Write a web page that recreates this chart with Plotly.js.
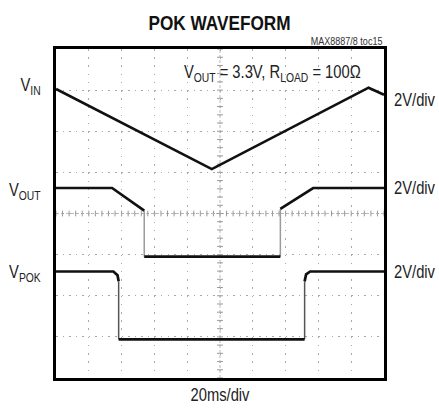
<!DOCTYPE html>
<html>
<head>
<meta charset="utf-8">
<script src="https://cdn.plot.ly/plotly-3.0.1.min.js"></script>
<style>html,body{margin:0;padding:0;background:#fff;}#chart{width:439px;height:409px;}</style>
</head>
<body>
<div id="chart"></div>
<script>
// ---- data (time in ms, amplitude in screen divisions) ----
const vinTime  = [0, 95, 190.6, 200];
const vinDiv   = [7.03, 5.08, 7.06, 6.89];

const voutTime = [0, 34.2, 53.8, 53.8, 136.8, 136.8, 156.8, 200];
const voutDiv  = [4.62, 4.62, 4.07, 2.95, 2.95, 4.11, 4.62, 4.62];

const vpokTime = [0, 35, 37.5, 38.2, 38.2, 151.6, 151.6, 152.5, 155, 200];
const vpokDiv  = [2.59, 2.59, 2.5, 2.35, 0.94, 0.94, 2.35, 2.52, 2.59, 2.59];

const channelLabels = ['V<sub>IN</sub>', 'V<sub>OUT</sub>', 'V<sub>POK</sub>'];
const scaleLabels   = ['2V/div', '2V/div', '2V/div'];
const timeLabel     = '20ms/div';
const conditionText = 'V<sub>OUT</sub> = 3.3V, R<sub>LOAD</sub> = 100Ω';
const chartTitle    = 'POK WAVEFORM';
const tocText       = 'MAX8887/8 toc15';

// ---- layout constants ----
const W = 439, H = 409;
const M = {l: 56, r: 55, t: 49, b: 31};
const PW = W - M.l - M.r, PH = H - M.t - M.b;
const FONT = '"Liberation Sans", Arial, sans-serif';
const NARROW = 0.82;
const px = x => (x - M.l) / PW;
const py = y => (M.t + PH - y) / PH;

function splitTrace(t, v, blackW, grayColor) {
  const bx = [], by = [], gx = [], gy = [];
  for (let i = 0; i < t.length; i++) {
    bx.push(t[i]); by.push(v[i]);
    if (i < t.length - 1 && t[i] === t[i + 1]) {
      bx.push(null); by.push(null);
      gx.push(t[i], t[i + 1], null); gy.push(v[i], v[i + 1], null);
    }
  }
  return [
    {x: gx, y: gy, mode: 'lines', line: {color: grayColor, width: 1.5}, hoverinfo: 'skip', showlegend: false},
    {x: bx, y: by, mode: 'lines', line: {color: '#111', width: blackW}, hoverinfo: 'skip', showlegend: false}
  ];
}

const traces = [
  {x: vinTime, y: vinDiv, mode: 'lines', line: {color: '#111', width: 2.7}, hoverinfo: 'skip', showlegend: false},
  ...splitTrace(voutTime, voutDiv, 2.7, '#9a9a9a'),
  ...splitTrace(vpokTime, vpokDiv, 2.7, '#555')
];

// center graticule with minor ticks
const shapes = [
  {type: 'line', xref: 'x', yref: 'y', x0: 0, x1: 200, y0: 4, y1: 4, line: {color: '#bbb', width: 1, dash: '3px,2px'}, layer: 'below'},
  {type: 'line', xref: 'x', yref: 'y', x0: 100, x1: 100, y0: 0, y1: 8, line: {color: '#bbb', width: 1, dash: '3px,2px'}, layer: 'below'}
];
for (let i = 0; i <= 50; i++) {
  shapes.push({type: 'line', xref: 'x', yref: 'y', x0: i * 4, x1: i * 4, y0: 3.93, y1: 4.07,
               line: {color: '#999', width: 1}, layer: 'below'});
}
for (let j = 0; j <= 40; j++) {
  shapes.push({type: 'line', xref: 'x', yref: 'y', x0: 98.2, x1: 101.8, y0: j * 0.2, y1: j * 0.2,
               line: {color: '#999', width: 1}, layer: 'below'});
}

const labelY = [86, 191, 273];
const scaleY = [100, 188, 272];
const annotations = [];
channelLabels.forEach((t, i) => annotations.push({
  text: t, xref: 'paper', yref: 'paper', x: px(43), y: py(labelY[i]), xanchor: 'right', yanchor: 'middle',
  showarrow: false, font: {family: FONT, size: 18, color: '#222'}
}));
scaleLabels.forEach((t, i) => annotations.push({
  text: t, xref: 'paper', yref: 'paper', x: px(392), y: py(scaleY[i]), xanchor: 'left', yanchor: 'middle',
  showarrow: false, font: {family: FONT, size: 18, color: '#222'}
}));
annotations.push({text: timeLabel, xref: 'paper', yref: 'paper', x: px(220), y: py(395), xanchor: 'center',
  yanchor: 'middle', showarrow: false, font: {family: FONT, size: 18, color: '#222'}});
annotations.push({text: conditionText, xref: 'paper', yref: 'paper', x: px(363), y: py(73), xanchor: 'right',
  yanchor: 'middle', showarrow: false, font: {family: FONT, size: 18, color: '#222'}});
annotations.push({text: tocText, xref: 'paper', yref: 'paper', x: px(384), y: py(41), xanchor: 'right',
  yanchor: 'middle', showarrow: false, font: {family: FONT, size: 11, color: '#333'}});

const layout = {
  width: W, height: H,
  margin: M,
  paper_bgcolor: '#fff', plot_bgcolor: '#fff',
  title: {text: '<b>' + chartTitle + '</b>', x: 0.5, xanchor: 'center', y: 1 - 23 / H, yanchor: 'middle',
          font: {family: FONT, size: 21, color: '#111'}},
  xaxis: {range: [0, 200], dtick: 20, tick0: 0, showticklabels: false, ticks: '', zeroline: false,
          showgrid: true, gridcolor: '#a8a8a8', gridwidth: 1, griddash: '1.5px,6.72px',
          showline: true, linecolor: '#000', linewidth: 3, mirror: true, fixedrange: true},
  yaxis: {range: [0, 8], dtick: 1, tick0: 0, showticklabels: false, ticks: '', zeroline: false,
          showgrid: true, gridcolor: '#a8a8a8', gridwidth: 1, griddash: '1.5px,5.06px',
          showline: true, linecolor: '#000', linewidth: 3, mirror: true, fixedrange: true},
  shapes: shapes,
  annotations: annotations,
  showlegend: false
};

// condense text horizontally (Helvetica-Narrow look) around each text's anchor
function narrow(el, anchor) {
  const b = el.getBBox();
  const ax = anchor === 'right' ? b.x + b.width : anchor === 'left' ? b.x : b.x + b.width / 2;
  const prev = el.getAttribute('transform') || '';
  el.setAttribute('transform', `translate(${ax},0) scale(${NARROW},1) translate(${-ax},0) ${prev}`);
}

Plotly.newPlot('chart', traces, layout, {staticPlot: true, displayModeBar: false}).then(gd => {
  gd.querySelectorAll('.annotation').forEach(g => {
    const idx = +g.getAttribute('data-index');
    const t = g.querySelector('text.annotation-text');
    if (t) narrow(t, annotations[idx].xanchor);
  });
  const tt = gd.querySelector('.gtitle');
  if (tt) narrow(tt, 'center');
});
</script>
</body>
</html>
